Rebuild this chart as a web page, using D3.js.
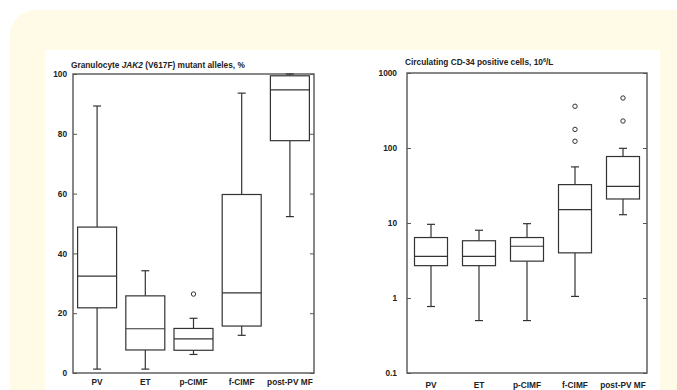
<!DOCTYPE html>
<html>
<head>
<meta charset="utf-8">
<script src="https://cdn.jsdelivr.net/npm/d3@7"></script>
<style>
  body { margin: 0; background: #fff; }
  svg { display: block; }
  text { font-family: "Liberation Sans", Arial, sans-serif; font-weight: bold; fill: #222; }
</style>
</head>
<body>
<div id="chart"></div>
<script>
// groups on both panels
var groups = ["PV", "ET", "p-CIMF", "f-CIMF", "post-PV MF"];

// JAK2 V617F allele burden, % : [low whisker, Q1, median, Q3, high whisker]
var jakStats = [
  [1.3, 21.8, 32.4, 48.8, 89.3],
  [1.3, 7.7, 14.8, 25.8, 34.2],
  [6.2, 7.6, 11.4, 14.9, 18.3],
  [12.6, 15.7, 26.8, 59.7, 93.6],
  [52.3, 77.7, 94.7, 99.4, 100]
];
var jakOutliers = [[], [], [26.4], [], []];
var jakTicks = [0, 20, 40, 60, 80, 100];

// circulating CD34+ cells, 10^6/L
var cdStats = [
  [0.77, 2.7, 3.6, 6.4, 9.6],
  [0.5, 2.7, 3.6, 5.8, 8.0],
  [0.5, 3.1, 4.9, 6.4, 9.8],
  [1.05, 4.0, 15.1, 32.5, 56],
  [12.9, 20.9, 30.8, 77, 99]
];
var cdOutliers = [[], [], [], [123, 177, 360], [229, 464]];
var cdTicks = [0.1, 1, 10, 100, 1000];

var width = 677, height = 390;
var fs = 8.3;

var svg = d3.select("#chart").append("svg")
    .attr("width", width)
    .attr("height", height);

// yellow card with rounded corners, white figure inside
svg.append("rect")
    .attr("x", 10).attr("y", 10)
    .attr("width", 700).attr("height", 420)
    .attr("rx", 26).attr("ry", 26)
    .attr("fill", "#fffbe6");
svg.append("rect")
    .attr("x", 45).attr("y", 50)
    .attr("width", 615).attr("height", 360)
    .attr("fill", "#fff");

function drawPanel(opts) {
  var g = svg.append("g");
  var x = d3.scaleBand().domain(groups).range([opts.left, opts.right]).paddingInner(0).paddingOuter(0);
  var y = opts.y;
  var bw = opts.boxWidth;
  var stroke = "#333";

  // frame
  g.append("rect")
      .attr("x", opts.left).attr("y", opts.top)
      .attr("width", opts.right - opts.left)
      .attr("height", opts.bottom - opts.top)
      .attr("fill", "none")
      .attr("stroke", "#555")
      .attr("stroke-width", 1.4);

  // left axis, ticks pointing inward
  var yAxis = d3.axisLeft(y).tickValues(opts.ticks).tickSize(-4).tickPadding(opts.pad).tickFormat(opts.fmt);
  var ax = g.append("g").attr("transform", "translate(" + opts.left + ",0)").call(yAxis);
  ax.select(".domain").remove();
  ax.selectAll("line").attr("stroke", "#555");
  ax.selectAll("text").attr("font-size", fs).attr("font-family", "Liberation Sans, Arial, sans-serif").attr("font-weight", "bold").attr("fill", "#222");

  // right side ticks, inward too
  var rAxis = d3.axisRight(y).tickValues(opts.ticks).tickSize(-4).tickFormat("");
  var rx = g.append("g").attr("transform", "translate(" + opts.right + ",0)").call(rAxis);
  rx.select(".domain").remove();
  rx.selectAll("line").attr("stroke", "#555");

  // category labels
  g.selectAll(".cat")
    .data(groups)
    .enter().append("text")
      .attr("class", "cat")
      .attr("x", function(d) { return x(d) + x.bandwidth() / 2; })
      .attr("y", opts.bottom + opts.labelDy)
      .attr("text-anchor", "middle")
      .attr("font-size", fs)
      .text(function(d) { return d; });

  var boxes = g.selectAll(".box")
    .data(opts.stats)
    .enter().append("g")
      .attr("class", "box")
      .attr("transform", function(d, i) { return "translate(" + (x(groups[i]) + x.bandwidth() / 2) + ",0)"; });

  // whiskers
  boxes.append("line")
      .attr("y1", function(d) { return y(d[0]); })
      .attr("y2", function(d) { return y(d[1]); })
      .attr("stroke", stroke).attr("stroke-width", 1.2);
  boxes.append("line")
      .attr("y1", function(d) { return y(d[3]); })
      .attr("y2", function(d) { return y(d[4]); })
      .attr("stroke", stroke).attr("stroke-width", 1.2);
  // caps
  [0, 4].forEach(function(k) {
    boxes.append("line")
        .attr("x1", -4).attr("x2", 4)
        .attr("y1", function(d) { return y(d[k]); })
        .attr("y2", function(d) { return y(d[k]); })
        .attr("stroke", stroke).attr("stroke-width", 1.2);
  });
  // box
  boxes.append("rect")
      .attr("x", -bw / 2).attr("width", bw)
      .attr("y", function(d) { return y(d[3]); })
      .attr("height", function(d) { return y(d[1]) - y(d[3]); })
      .attr("fill", "#fff")
      .attr("stroke", stroke).attr("stroke-width", 1.2);
  // median
  boxes.append("line")
      .attr("x1", -bw / 2).attr("x2", bw / 2)
      .attr("y1", function(d) { return y(d[2]); })
      .attr("y2", function(d) { return y(d[2]); })
      .attr("stroke", stroke).attr("stroke-width", 1.2);

  // outliers
  boxes.each(function(d, i) {
    d3.select(this).selectAll("circle")
      .data(opts.outliers[i])
      .enter().append("circle")
        .attr("cx", 0)
        .attr("cy", function(v) { return y(v); })
        .attr("r", 2.2)
        .attr("fill", "none")
        .attr("stroke", stroke).attr("stroke-width", 1);
  });

  // title
  var t = g.append("text")
      .attr("x", opts.left - 2)
      .attr("y", opts.top - opts.titleDy)
      .attr("font-size", fs);
  opts.title(t);
}

// left panel : linear 0-100
drawPanel({
  left: 73, right: 314, top: 74, bottom: 373,
  y: d3.scaleLinear().domain([0, 100]).range([373, 74]),
  ticks: jakTicks,
  fmt: d3.format("d"),
  pad: 6,
  stats: jakStats,
  outliers: jakOutliers,
  boxWidth: 39,
  labelDy: 12,
  titleDy: 6,
  title: function(t) {
    t.append("tspan").text("Granulocyte ");
    t.append("tspan").attr("font-style", "italic").text("JAK2");
    t.append("tspan").text(" (V617F) mutant alleles, %");
  }
});

// right panel : log 0.1-1000
drawPanel({
  left: 407, right: 647, top: 73, bottom: 373,
  y: d3.scaleLog().domain([0.1, 1000]).range([373, 73]),
  ticks: cdTicks,
  fmt: function(d) { return d < 1 ? "0.1" : d3.format("d")(d); },
  pad: 10,
  stats: cdStats,
  outliers: cdOutliers,
  boxWidth: 33,
  labelDy: 15,
  titleDy: 8,
  title: function(t) {
    t.text("Circulating CD-34 positive cells, 10");
    t.append("tspan").attr("dy", -3).attr("font-size", 5.5).text("6");
    t.append("tspan").attr("dy", 3).text("/L");
  }
});
</script>
</body>
</html>
